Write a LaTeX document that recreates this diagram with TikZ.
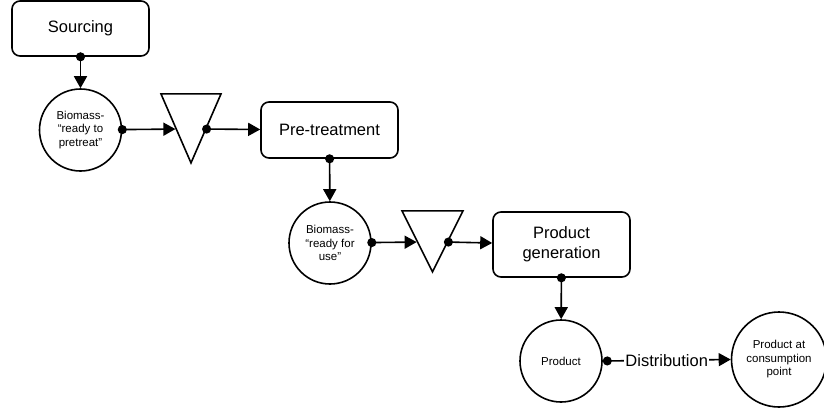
\documentclass[tikz,border=0pt]{standalone}
\usepackage{fontspec}
\setmainfont{Liberation Sans}
\usetikzlibrary{shapes.geometric, arrows.meta}
\tikzset{
    stage/.style={rectangle, rounded corners=8pt, minimum width=137pt, minimum height=55pt, text centered, draw, line width=1.6pt, align=center, font=\fontsize{16.5}{20}\selectfont},
    stock/.style={circle, minimum size=82pt, inner sep=0pt, text centered, draw, line width=1.6pt, align=center, font=\fontsize{11.5}{13.5}\selectfont},
    buffer/.style={isosceles triangle, isosceles triangle stretches, shape border rotate=270, anchor=apex, inner sep=0pt, draw, line width=1.6pt},
    flow/.style={{Circle[length=9pt]}-{Triangle[length=12pt, width=13pt]}, line width=1.6pt, shorten <=-4.5pt}
}
\begin{document}
\begin{tikzpicture}[x=1pt, y=-1pt]
    \useasboundingbox (0,0) rectangle (824,408);

    % Stages and stocks, top left to bottom right
    \node[stage] (src) at (80.5,28.5) {Sourcing};
    \node[stock] (bio1) at (80.5,130) {Biomass-\\“ready to\\pretreat”};
    \node[buffer, minimum width=60pt, minimum height=69pt] (buf1) at (191,165) {};
    \node[stage, minimum height=56pt] (pre) at (329.5,130) {Pre-treatment};
    \node[stock] (bio2) at (330,243) {Biomass-\\“ready for\\use”};
    \node[buffer, minimum width=61pt, minimum height=61pt] (buf2) at (432.5,274) {};
    \node[stage, minimum height=65pt] (gen) at (561.5,244.5) {Product\\generation};
    \node[stock] (prod) at (561,361) {Product};
    \node[stock, minimum size=95pt] (cons) at (779,359.5) {Product at\\consumption\\point};

    % Flows
    \draw[flow] (src) -- (bio1);
    \draw[flow] (bio1) -- (buf1.right side);
    \draw[flow] (buf1.left side) -- (pre);
    \draw[flow] (pre) -- (bio2);
    \draw[flow] (bio2) -- (buf2.right side);
    \draw[flow] (buf2.left side) -- (gen);
    \draw[flow] (gen) -- (prod);
    \draw[flow, shorten <=0pt] (prod.east) -- node[fill=white, inner sep=1pt, font=\fontsize{16.5}{20}\selectfont] (dist) {Distribution} (cons.west);
\end{tikzpicture}
\end{document}
